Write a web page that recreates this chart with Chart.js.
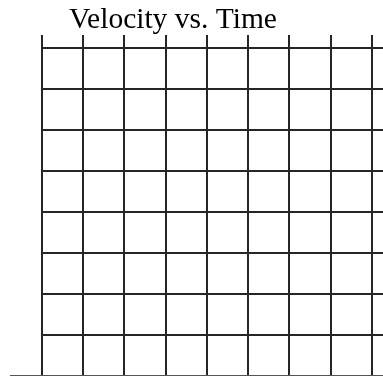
<!DOCTYPE html>
<html>
<head>
<meta charset="utf-8">
<title>Velocity vs. Time</title>
<script src="https://cdn.jsdelivr.net/npm/chart.js@4/dist/chart.umd.min.js"></script>
<style>
  html, body { margin: 0; padding: 0; background: #fff; }
  #wrap { position: relative; width: 383px; height: 377px; }
</style>
</head>
<body>
<div id="wrap"><canvas id="chart"></canvas></div>
<script>
/* blank velocity/time worksheet grid: nothing plotted yet */

var titleText     = 'Velocity vs. Time';
var timeTicks     = [0, 1, 2, 3, 4, 5, 6, 7, 8];     // x grid (s)
var velocityTicks = [0, 1, 2, 3, 4, 5, 6, 7, 8];     // y grid (m/s)
var velocityData  = [];                              // no points on the sheet
var timeMax       = 8.27;                            // grid runs off the right edge
var velocityMax   = 8.32;                            // lines poke above the top row

var GRID = '#262626';

// use exactly the listed ticks (chart.js would otherwise swap the last one for max)
function useTicks(list) {
  return function (scale) {
    scale.ticks = list.map(function (v) { return { value: v }; });
  };
}

/* title + baseline drawn by hand so they sit where the worksheet has them */
var sheetDecor = {
  id: 'sheetDecor',
  afterDraw: function (chart) {
    var ctx = chart.ctx, a = chart.chartArea, y = chart.scales.y;
    var y0 = Math.round(y.getPixelForValue(velocityTicks[0])) - 0.5;
    ctx.save();
    ctx.strokeStyle = '#555';
    ctx.lineWidth = 1;
    ctx.beginPath();
    ctx.moveTo(10, y0);
    ctx.lineTo(a.right, y0);
    ctx.stroke();

    ctx.fillStyle = '#000';
    ctx.font = '29.5px "Liberation Serif", "Times New Roman", serif';
    ctx.textAlign = 'center';
    ctx.textBaseline = 'alphabetic';
    ctx.fillText(titleText, 173, 28);
    ctx.restore();
  }
};

new Chart(document.getElementById('chart').getContext('2d'), {
  type: 'scatter',
  data: {
    datasets: [{ label: 'velocity', data: velocityData, showLine: true, borderColor: '#000' }]
  },
  options: {
    responsive: true,
    maintainAspectRatio: false,
    animation: false,
    layout: { padding: { top: 35, left: 42, right: 0, bottom: 1 } },
    plugins: { legend: { display: false }, title: { display: false }, tooltip: { enabled: false } },
    scales: {
      x: {
        type: 'linear', min: 0, max: timeMax,
        ticks: { display: false },
        afterBuildTicks: useTicks(timeTicks),
        border: { display: false },
        grid: { color: GRID, lineWidth: 2, drawTicks: false }
      },
      y: {
        type: 'linear', min: 0, max: velocityMax,
        ticks: { display: false },
        afterBuildTicks: useTicks(velocityTicks),
        border: { display: false },
        grid: {
          color: function (c) { return c.tick && c.tick.value === 0 ? 'rgba(0,0,0,0)' : GRID; },
          lineWidth: 2, drawTicks: false
        }
      }
    }
  },
  plugins: [sheetDecor]
});
</script>
</body>
</html>
